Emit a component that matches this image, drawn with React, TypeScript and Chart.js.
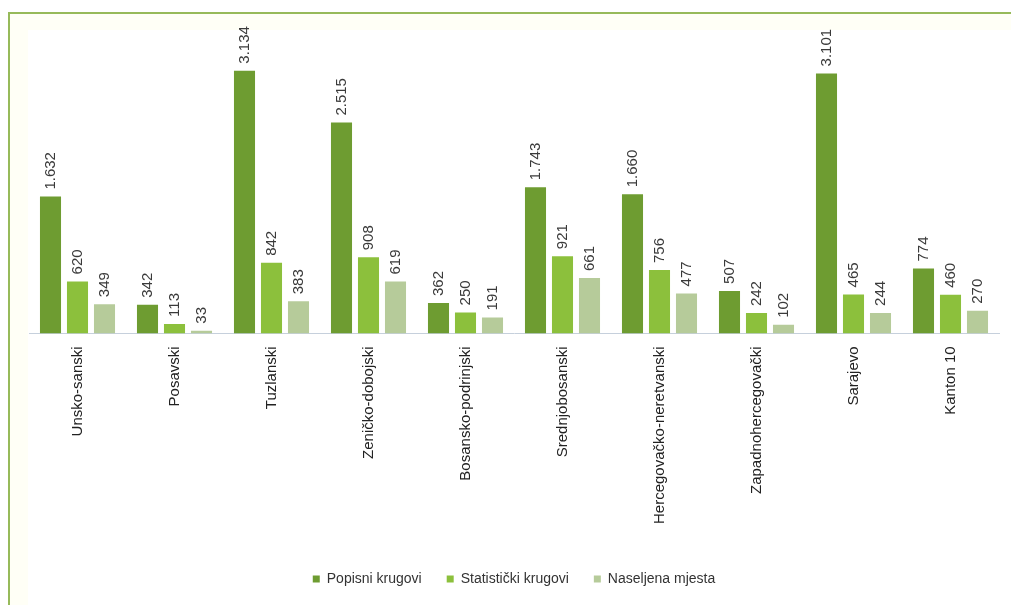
import React, { useEffect, useRef } from "react";
import { Chart, registerables } from "chart.js";

Chart.register(...registerables);

const categories = [
  "Unsko-sanski",
  "Posavski",
  "Tuzlanski",
  "Zeničko-dobojski",
  "Bosansko-podrinjski",
  "Srednjobosanski",
  "Hercegovačko-neretvanski",
  "Zapadnohercegovački",
  "Sarajevo",
  "Kanton 10",
];
const popisniKrugovi = [1632, 342, 3134, 2515, 362, 1743, 1660, 507, 3101, 774];
const statistickiKrugovi = [620, 113, 842, 908, 250, 921, 756, 242, 465, 460];
const naseljenaMjesta = [349, 33, 383, 619, 191, 661, 477, 102, 244, 270];
const seriesNames = ["Popisni krugovi", "Statistički krugovi", "Naseljena mjesta"];

const FONT = '"Liberation Sans", Arial, sans-serif';

function fmt(v: number): string {
  if (v >= 1000) {
    return Math.floor(v / 1000) + "." + String(v % 1000).padStart(3, "0");
  }
  return String(v);
}

const valueLabels = {
  id: "valueLabels",
  afterDatasetsDraw(chart: any) {
    const ctx = chart.ctx;
    ctx.save();
    ctx.font = `15px ${FONT}`;
    ctx.fillStyle = "#3a3a3a";
    ctx.textAlign = "left";
    ctx.textBaseline = "middle";
    chart.data.datasets.forEach((ds: any, i: number) => {
      const meta = chart.getDatasetMeta(i);
      meta.data.forEach((bar: any, j: number) => {
        const v = ds.data[j];
        ctx.save();
        ctx.translate(bar.x, bar.y - 7);
        ctx.rotate(-Math.PI / 2);
        ctx.fillText(fmt(v), 0, 0);
        ctx.restore();
      });
    });
    ctx.restore();
  },
};

export default function App() {
  const ref = useRef<HTMLCanvasElement>(null);

  useEffect(() => {
    if (!ref.current) return;
    const chart = new Chart(ref.current, {
      type: "bar",
      data: {
        labels: categories,
        datasets: [
          {
            label: seriesNames[0],
            data: popisniKrugovi,
            backgroundColor: "#6e9c31",
            categoryPercentage: 0.835,
            barPercentage: 0.78,
          },
          {
            label: seriesNames[1],
            data: statistickiKrugovi,
            backgroundColor: "#8cc03c",
            categoryPercentage: 0.835,
            barPercentage: 0.78,
          },
          {
            label: seriesNames[2],
            data: naseljenaMjesta,
            backgroundColor: "#b6cb9a",
            categoryPercentage: 0.835,
            barPercentage: 0.78,
          },
        ],
      },
      options: {
        responsive: false,
        animation: false,
        layout: { padding: { left: 29, right: 12, top: 40, bottom: 9 } },
        plugins: {
          legend: {
            position: "bottom",
            labels: {
              boxWidth: 7,
              boxHeight: 7,
              padding: 25,
              color: "#333",
              font: { family: FONT, size: 14 },
            },
          },
          tooltip: { enabled: false },
        },
        scales: {
          x: {
            grid: { display: false },
            border: { display: true, color: "#c6d0dc", width: 1 },
            ticks: {
              autoSkip: false,
              maxRotation: 90,
              minRotation: 90,
              padding: 5,
              color: "#222",
              font: { family: FONT, size: 15 },
            },
            afterFit: (scale: any) => {
              scale.height = 213.6;
            },
          },
          y: {
            display: false,
            min: 0,
            max: 3500,
          },
        },
      },
      plugins: [valueLabels],
    });
    return () => chart.destroy();
  }, []);

  return (
    <div
      style={{
        position: "fixed",
        left: 0,
        top: 0,
        width: 1011,
        height: 605,
        background: "#fff",
        overflow: "hidden",
      }}
    >
      <div
        style={{
          position: "absolute",
          left: 8,
          top: 12,
          width: 1100,
          height: 700,
          borderTop: "2px solid #97ba5a",
          borderLeft: "2px solid #97ba5a",
          background: "#fffff6",
        }}
      />
      <div
        style={{
          position: "absolute",
          left: 28,
          top: 30,
          width: 1100,
          height: 700,
          background: "#fff",
        }}
      />
      <canvas
        ref={ref}
        width={1011}
        height={605}
        style={{ position: "absolute", left: 0, top: 0, width: 1011, height: 605 }}
      />
    </div>
  );
}
